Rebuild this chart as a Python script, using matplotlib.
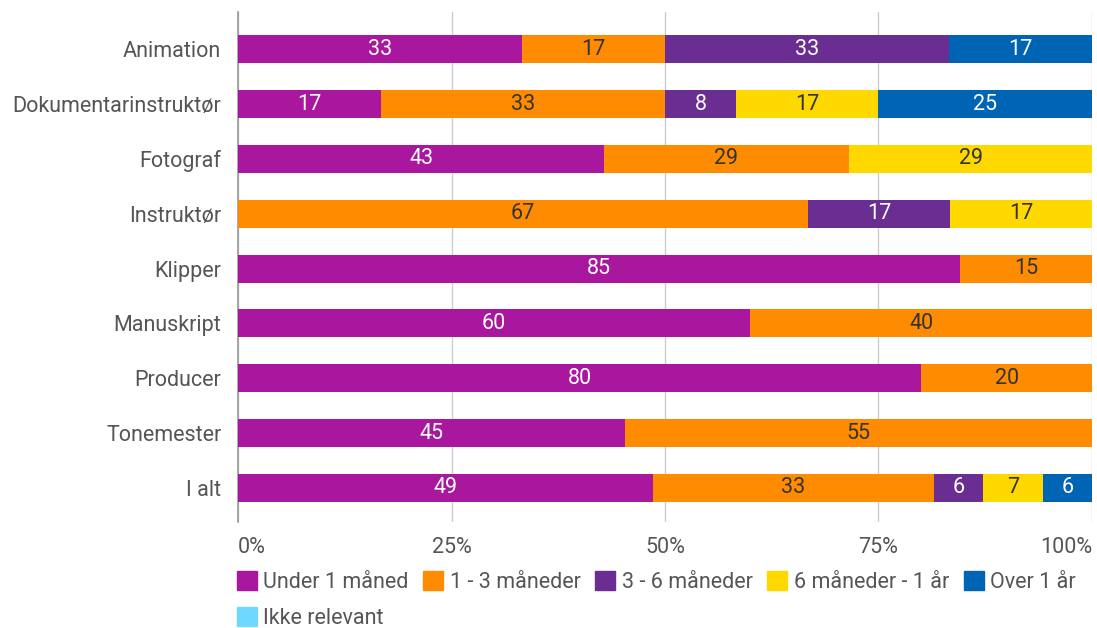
import matplotlib.pyplot as plt
from matplotlib.patches import Patch

plt.rcParams["font.family"] = ["Roboto", "DejaVu Sans"]

roles = ["Animation", "Dokumentarinstruktør", "Fotograf", "Instruktør", "Klipper",
         "Manuskript", "Producer", "Tonemester", "I alt"]
series = ["Under 1 måned", "1 - 3 måneder", "3 - 6 måneder", "6 måneder - 1 år",
          "Over 1 år", "Ikke relevant"]

under_1 = [33.3, 16.7, 42.9, 0, 84.6, 60, 80, 45.3, 48.6]
m1_3 = [16.7, 33.3, 28.6, 66.7, 15.4, 40, 20, 54.7, 32.9]
m3_6 = [33.3, 8.3, 0, 16.7, 0, 0, 0, 0, 5.7]
m6_12 = [0, 16.7, 28.6, 16.7, 0, 0, 0, 0, 7.1]
over_1 = [16.7, 25.0, 0, 0, 0, 0, 0, 0, 5.7]
not_rel = [0, 0, 0, 0, 0, 0, 0, 0, 0]

values = [under_1, m1_3, m3_6, m6_12, over_1, not_rel]
colors = ["#A8179D", "#FF8C00", "#6A2D91", "#FFD800", "#0064B4", "#6FD8FF"]
text_colors = ["white", "#333333", "white", "#333333", "white", "#333333"]

fig = plt.figure(figsize=(10.97, 6.28), dpi=100)
ax = fig.add_axes([0.217, 0.169, 0.7784, 0.812])

fs = 15.5
y = list(range(len(roles)))
left = [0.0] * len(roles)
for vals, col, tcol in zip(values, colors, text_colors):
    ax.barh(y, vals, left=left, height=0.51, color=col, zorder=3)
    for i, v in enumerate(vals):
        if v > 0:
            ax.text(left[i] + v / 2, i, f"{round(v):d}", ha="center", va="center",
                    color=tcol, fontsize=fs, zorder=4)
    left = [l + v for l, v in zip(left, vals)]

ax.set_xlim(0, 100)
ax.set_ylim(8.62, -0.68)
ax.set_yticks(y)
ax.set_yticklabels(roles, fontsize=fs, color="#555555")
ax.set_xticks([0, 25, 50, 75, 100])
ax.set_xticklabels(["0%", "25%", "50%", "75%", "100%"], fontsize=fs, color="#555555")
for lab, ha in zip(ax.get_xticklabels(), ["left", "center", "center", "center", "right"]):
    lab.set_ha(ha)
ax.tick_params(axis="x", length=0, pad=11)
ax.tick_params(axis="y", length=0, pad=12)
ax.grid(axis="x", color="#cccccc", linewidth=1, zorder=0)
for s in ["top", "right", "bottom"]:
    ax.spines[s].set_visible(False)
ax.spines["left"].set_color("#999999")
ax.spines["left"].set_linewidth(1.2)

handles = [Patch(facecolor=c, edgecolor=c) for c in colors]
order = [0, 5, 1, 2, 3, 4]
fig.legend([handles[i] for i in order], [series[i] for i in order],
           loc="upper left", bbox_to_anchor=(0.208, 0.104), ncol=5, frameon=False,
           fontsize=fs, labelcolor="#555555", handlelength=0.93, handleheight=0.93,
           handletextpad=0.3, columnspacing=0.68, labelspacing=0.68, borderaxespad=0)

fig.savefig("out.png", dpi=100)
